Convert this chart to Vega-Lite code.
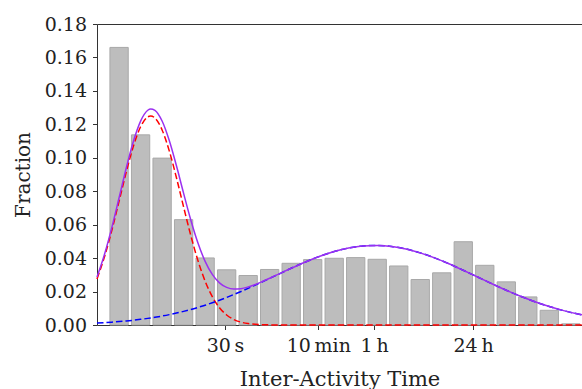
{
  "$schema": "https://vega.github.io/schema/vega-lite/v6.json",
  "width": 485,
  "height": 301,
  "autosize": {"type": "none"},
  "padding": {"left": 97, "top": 24, "right": 0, "bottom": 64},
  "background": "white",
  "config": {
    "view": {"stroke": null},
    "axis": {
      "labelFont": "DejaVu Serif",
      "labelFontSize": 19,
      "labelColor": "#222",
      "labelOverlap": false,
      "titleFont": "DejaVu Serif",
      "titleFontSize": 20,
      "titleFontWeight": "normal",
      "titleColor": "#222",
      "domainColor": "#333",
      "tickColor": "#333",
      "tickSize": 4.5,
      "grid": false
    }
  },
  "resolve": {"axis": {"x": "independent"}},
  "datasets": {
    "bars": [
      {"logt": 0.0, "value": 0.166},
      {"logt": 0.3, "value": 0.1137},
      {"logt": 0.6, "value": 0.0998},
      {"logt": 0.9, "value": 0.063},
      {"logt": 1.2, "value": 0.0401},
      {"logt": 1.5, "value": 0.033},
      {"logt": 1.8, "value": 0.0296},
      {"logt": 2.1, "value": 0.0332},
      {"logt": 2.4, "value": 0.0369},
      {"logt": 2.7, "value": 0.0391},
      {"logt": 3.0, "value": 0.0399},
      {"logt": 3.3, "value": 0.0403},
      {"logt": 3.6, "value": 0.0393},
      {"logt": 3.9, "value": 0.0353},
      {"logt": 4.2, "value": 0.0272},
      {"logt": 4.5, "value": 0.0312},
      {"logt": 4.8, "value": 0.0498},
      {"logt": 5.1, "value": 0.0357},
      {"logt": 5.4, "value": 0.0258},
      {"logt": 5.7, "value": 0.0168},
      {"logt": 6.0, "value": 0.0088},
      {"logt": 6.3, "value": 0.0007}
    ],
    "curves": [
      {"logt": -0.308, "red": 0.02755, "blue": 0.00115, "total": 0.0287},
      {"logt": -0.2, "red": 0.04131, "blue": 0.00141, "total": 0.04272},
      {"logt": -0.1, "red": 0.05684, "blue": 0.0017, "total": 0.05854},
      {"logt": 0.0, "red": 0.07407, "blue": 0.00203, "total": 0.0761},
      {"logt": 0.1, "red": 0.09146, "blue": 0.00242, "total": 0.09388},
      {"logt": 0.2, "red": 0.10698, "blue": 0.00286, "total": 0.10984},
      {"logt": 0.3, "red": 0.11855, "blue": 0.00337, "total": 0.12192},
      {"logt": 0.4, "red": 0.12446, "blue": 0.00396, "total": 0.12842},
      {"logt": 0.44, "red": 0.125, "blue": 0.00421, "total": 0.12921},
      {"logt": 0.5, "red": 0.12379, "blue": 0.00462, "total": 0.12841},
      {"logt": 0.6, "red": 0.11664, "blue": 0.00536, "total": 0.122},
      {"logt": 0.7, "red": 0.10413, "blue": 0.0062, "total": 0.11033},
      {"logt": 0.8, "red": 0.08806, "blue": 0.00713, "total": 0.09519},
      {"logt": 0.9, "red": 0.07056, "blue": 0.00815, "total": 0.07871},
      {"logt": 1.0, "red": 0.05356, "blue": 0.00928, "total": 0.06284},
      {"logt": 1.1, "red": 0.03851, "blue": 0.01052, "total": 0.04903},
      {"logt": 1.2, "red": 0.02623, "blue": 0.01185, "total": 0.03808},
      {"logt": 1.3, "red": 0.01694, "blue": 0.0133, "total": 0.03024},
      {"logt": 1.4, "red": 0.01035, "blue": 0.01484, "total": 0.02519},
      {"logt": 1.5, "red": 0.006, "blue": 0.01648, "total": 0.02248},
      {"logt": 1.6, "red": 0.00329, "blue": 0.01822, "total": 0.02151},
      {"logt": 1.7, "red": 0.00171, "blue": 0.02003, "total": 0.02174},
      {"logt": 1.8, "red": 0.00084, "blue": 0.02192, "total": 0.02276},
      {"logt": 1.9, "red": 0.00039, "blue": 0.02387, "total": 0.02426},
      {"logt": 2.0, "red": 0.00017, "blue": 0.02586, "total": 0.02603},
      {"logt": 2.2, "red": 0.00003, "blue": 0.02991, "total": 0.02994},
      {"logt": 2.4, "red": 0, "blue": 0.03392, "total": 0.03392},
      {"logt": 2.6, "red": 0, "blue": 0.03771, "total": 0.03771},
      {"logt": 2.8, "red": 0, "blue": 0.0411, "total": 0.0411},
      {"logt": 3.0, "red": 0, "blue": 0.04392, "total": 0.04392},
      {"logt": 3.2, "red": 0, "blue": 0.04601, "total": 0.04601},
      {"logt": 3.4, "red": 0, "blue": 0.04726, "total": 0.04726},
      {"logt": 3.6, "red": 0, "blue": 0.04759, "total": 0.04759},
      {"logt": 3.8, "red": 0, "blue": 0.04698, "total": 0.04698},
      {"logt": 4.0, "red": 0, "blue": 0.04547, "total": 0.04547},
      {"logt": 4.2, "red": 0, "blue": 0.04315, "total": 0.04315},
      {"logt": 4.4, "red": 0, "blue": 0.04014, "total": 0.04014},
      {"logt": 4.6, "red": 0, "blue": 0.03661, "total": 0.03661},
      {"logt": 4.8, "red": 0, "blue": 0.03273, "total": 0.03273},
      {"logt": 5.0, "red": 0, "blue": 0.02869, "total": 0.02869},
      {"logt": 5.2, "red": 0, "blue": 0.02466, "total": 0.02466},
      {"logt": 5.4, "red": 0, "blue": 0.02078, "total": 0.02078},
      {"logt": 5.6, "red": 0, "blue": 0.01716, "total": 0.01716},
      {"logt": 5.8, "red": 0, "blue": 0.0139, "total": 0.0139},
      {"logt": 6.0, "red": 0, "blue": 0.01104, "total": 0.01104},
      {"logt": 6.2, "red": 0, "blue": 0.00859, "total": 0.00859},
      {"logt": 6.4, "red": 0, "blue": 0.00656, "total": 0.00656},
      {"logt": 6.456, "red": 0, "blue": 0.00606, "total": 0.00606}
    ]
  },
  "encoding": {
    "x": {
      "field": "logt",
      "type": "quantitative",
      "scale": {"domain": [-0.308, 6.456], "nice": false, "zero": false, "padding": 0},
      "axis": {
        "title": "Inter-Activity Time",
        "titleFontSize": 21,
        "values": [1.4771, 2.7782, 3.5563, 4.9365],
        "labelExpr": "datum.value < 2 ? '30\u2009s' : datum.value < 3 ? '10\u2009min' : datum.value < 4 ? '1\u2009h' : '24\u2009h'",
        "labelPadding": 7,
        "titlePadding": 13
      }
    },
    "y": {
      "field": "value",
      "type": "quantitative",
      "scale": {"domain": [0, 0.18], "nice": false},
      "axis": {
        "title": "Fraction",
        "values": [0, 0.02, 0.04, 0.06, 0.08, 0.1, 0.12, 0.14, 0.16, 0.18],
        "format": ".2f",
        "labelOverlap": false,
        "labelPadding": 6,
        "titlePadding": 11
      }
    }
  },
  "layer": [
    {
      "data": {"name": "bars"},
      "mark": {"type": "bar", "width": 18.3, "fill": "#bdbdbd", "stroke": "#a8a8a8", "strokeWidth": 1}
    },
    {
      "data": {"name": "curves"},
      "transform": [
        {"fold": ["red"], "as": ["component", "value"]}
      ],
      "mark": {"type": "line", "color": "#ff0000", "strokeWidth": 1.5, "strokeDash": [6.5, 3], "interpolate": "monotone"},
      "encoding": {
        "x": {"field": "logt", "type": "quantitative", "axis": null}
      }
    },
    {
      "data": {"name": "curves"},
      "transform": [
        {"fold": ["blue"], "as": ["component", "value"]}
      ],
      "mark": {"type": "line", "color": "#0000ff", "strokeWidth": 1.5, "strokeDash": [6.5, 3], "interpolate": "monotone"},
      "encoding": {
        "x": {"field": "logt", "type": "quantitative", "axis": null}
      }
    },
    {
      "data": {"name": "curves"},
      "transform": [
        {"fold": ["total"], "as": ["component", "value"]}
      ],
      "mark": {"type": "line", "color": "#9b30f0", "strokeWidth": 1.5, "interpolate": "monotone"},
      "encoding": {
        "x": {"field": "logt", "type": "quantitative", "axis": {"orient": "top", "title": null, "labels": false, "ticks": false, "domainColor": "#333"}}
      }
    }
  ]
}
